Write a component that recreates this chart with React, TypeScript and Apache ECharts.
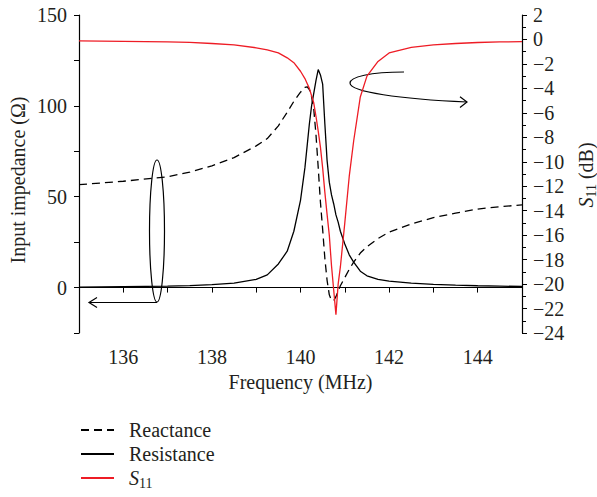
import React, { useEffect, useRef } from "react";
import * as echarts from "echarts";

// Frequency grid (MHz)
const freq = [
  135, 136, 137, 137.5, 138, 138.5, 139, 139.25, 139.5, 139.7, 139.85, 140, 140.1, 140.15, 140.2,
  140.25, 140.3, 140.35, 140.4, 140.45, 140.5, 140.55, 140.6, 140.65, 140.7, 140.75, 140.8,
  140.85, 140.9, 141, 141.1, 141.2, 141.35, 141.5, 141.75, 142, 142.5, 143, 143.5, 144, 144.5, 145,
];
// Reactance (Ω)
const reactance = [
  56.6, 58.5, 61, 63.5, 67, 71.5, 78, 82, 89, 96.5, 102.5, 107.5, 110.2, 110.5, 109,
  105, 98, 84, 66, 47, 32, 16, 4, -4, -7, -7.2, -5,
  -2, 1, 5.5, 10, 14, 19, 22.5, 27, 30.5, 35, 38.5, 41, 43.2, 44.5, 45.5,
];
// Resistance (Ω)
const resistance = [
  0.2, 0.5, 0.8, 1.1, 1.6, 2.4, 4.5, 7, 13, 20, 31, 48, 66, 78, 90,
  100, 107, 114, 120, 117, 112, 90, 70, 58, 51, 46, 40,
  36, 31, 24, 18, 14, 9, 6.5, 4.5, 3.5, 2.5, 1.8, 1.3, 1, 0.8, 0.6,
];
// S11 (dB)
const s11 = [
  -0.12, -0.15, -0.2, -0.24, -0.33, -0.45, -0.68, -0.85, -1.1, -1.5, -1.9, -2.6, -3.2, -3.6, -4.0,
  -4.6, -5.2, -6.3, -7.5, -8.8, -10.5, -12.5, -14.3, -16, -18.5, -20.5, -22.5,
  -20, -18.6, -15, -11.2, -8.3, -4.7, -3, -1.8, -1.1, -0.65, -0.45, -0.33, -0.25, -0.2, -0.18,
];

const FONT = "'Liberation Serif', 'Times New Roman', serif";
const FS = 20;
const TXT = "#231f20";

function pairs(ys: number[]) {
  return freq.map((f, i) => [f, ys[i]]);
}

export default function App() {
  const ref = useRef<HTMLDivElement>(null);
  useEffect(() => {
    document.body.style.margin = "0";
    const chart = echarts.init(ref.current!, null, { renderer: "svg" });
    const axisLine = { show: true, lineStyle: { color: "#000", width: 1.2 } };
    chart.setOption({
      animation: false,
      grid: { left: 79, right: 75, top: 15, bottom: 164 },
      xAxis: {
        type: "value",
        min: 135,
        max: 145,
        interval: 1,
        name: "Frequency (MHz)",
        nameLocation: "middle",
        nameGap: 31,
        nameTextStyle: { fontFamily: FONT, fontSize: FS, color: TXT },
        axisLine,
        axisTick: { show: true, length: 5, lineStyle: { color: "#000" } },
        axisLabel: {
          fontFamily: FONT,
          fontSize: FS,
          color: TXT,
          margin: 14,
          formatter: (v: number) => (v % 2 === 0 && v > 135 && v < 145 ? String(v) : ""),
        },
        splitLine: { show: false },
      },
      yAxis: [
        {
          type: "value",
          min: -25,
          max: 150,
          interval: 25,
          axisLine,
          axisTick: { show: true, length: 5, lineStyle: { color: "#000" } },
          axisLabel: {
            fontFamily: FONT,
            fontSize: FS,
            color: TXT,
            margin: 12,
            formatter: (v: number) => (v % 50 === 0 ? String(v) : ""),
          },
          splitLine: { show: false },
        },
        {
          type: "value",
          min: -24,
          max: 2,
          interval: 2,
          position: "right",
          axisLine,
          axisTick: { show: true, length: 5, lineStyle: { color: "#000" } },
          minorTick: { show: true, splitNumber: 2, length: 4, lineStyle: { color: "#000" } },
          axisLabel: {
            fontFamily: FONT,
            fontSize: FS,
            color: TXT,
            margin: 11,
            formatter: (v: number) => (v < 0 ? "\u2212" + Math.abs(v) : String(v)),
          },
          splitLine: { show: false },
        },
      ],
      legend: {
        data: ["Reactance", "Resistance", "S11"],
        orient: "vertical",
        left: 80,
        top: 420,
        height: 120,
        padding: 0,
        itemWidth: 33,
        itemHeight: 14,
        itemGap: 4,
        itemStyle: { opacity: 0 },
        textStyle: {
          fontFamily: FONT,
          fontSize: FS,
          color: TXT,
          padding: [0, 0, 0, 10],
          rich: {
            i: { fontFamily: FONT, fontSize: FS, fontStyle: "italic", color: TXT },
            s: { fontFamily: FONT, fontSize: 14, color: TXT, padding: [10, 0, 0, 0] },
          },
        },
        formatter: (name: string) => (name === "S11" ? "{i|S}{s|11}" : name),
      },
      series: [
        {
          name: "Reactance",
          type: "line",
          yAxisIndex: 0,
          data: pairs(reactance),
          showSymbol: false,
          symbol: "none",
          lineStyle: { color: "#000", width: 1.3, type: [8, 5] },
          itemStyle: { color: "#000" },
        },
        {
          name: "Resistance",
          type: "line",
          yAxisIndex: 0,
          data: pairs(resistance),
          showSymbol: false,
          symbol: "none",
          lineStyle: { color: "#000", width: 1.3 },
          itemStyle: { color: "#000" },
        },
        {
          name: "S11",
          type: "line",
          yAxisIndex: 1,
          data: pairs(s11),
          showSymbol: false,
          symbol: "none",
          lineStyle: { color: "#ee1c25", width: 1.3 },
          itemStyle: { color: "#ee1c25" },
        },
      ],
      graphic: [
        {
          type: "text",
          x: 18,
          y: 180,
          rotation: Math.PI / 2,
          style: {
            text: "Input impedance (\u03A9)",
            fontFamily: FONT,
            fontSize: FS,
            fill: TXT,
            align: "center",
            verticalAlign: "middle",
          },
        },
        {
          type: "text",
          x: 586,
          y: 175,
          rotation: Math.PI / 2,
          style: {
            text: "{i|S}{s|11}{n| (dB)}",
            fontFamily: FONT,
            fontSize: FS,
            fill: TXT,
            align: "center",
            verticalAlign: "middle",
            rich: {
              i: { fontFamily: FONT, fontSize: FS, fontStyle: "italic", fill: TXT },
              s: { fontFamily: FONT, fontSize: 14, fill: TXT, padding: [10, 0, 0, 0] },
              n: { fontFamily: FONT, fontSize: FS, fill: TXT },
            },
          },
        },
        {
          type: "ellipse",
          shape: { cx: 157, cy: 231, rx: 7.5, ry: 71 },
          style: { fill: "none", stroke: "#000", lineWidth: 1.2 },
        },
        {
          type: "polyline",
          shape: { points: [[157, 302.5], [89, 302.5]] },
          style: { fill: "none", stroke: "#000", lineWidth: 1.2 },
        },
        {
          type: "polyline",
          shape: { points: [[97, 297.5], [89, 302.5], [97, 307.5]] },
          style: { fill: "none", stroke: "#000", lineWidth: 1.2 },
        },
        {
          type: "bezierCurve",
          shape: { x1: 404, y1: 72, cpx1: 370, cpy1: 72, cpx2: 350, cpy2: 77, x2: 350, y2: 83 },
          style: { fill: "none", stroke: "#000", lineWidth: 1.2 },
        },
        {
          type: "bezierCurve",
          shape: { x1: 350, y1: 83, cpx1: 350, cpy1: 92, cpx2: 400, cpy2: 99, x2: 467, y2: 102 },
          style: { fill: "none", stroke: "#000", lineWidth: 1.2 },
        },
        {
          type: "polyline",
          shape: { points: [[460, 96.7], [467, 102], [460, 107.5]] },
          style: { fill: "none", stroke: "#000", lineWidth: 1.2 },
        },
      ],
    });
    return () => chart.dispose();
  }, []);
  return <div ref={ref} style={{ width: 597, height: 497 }} />;
}
